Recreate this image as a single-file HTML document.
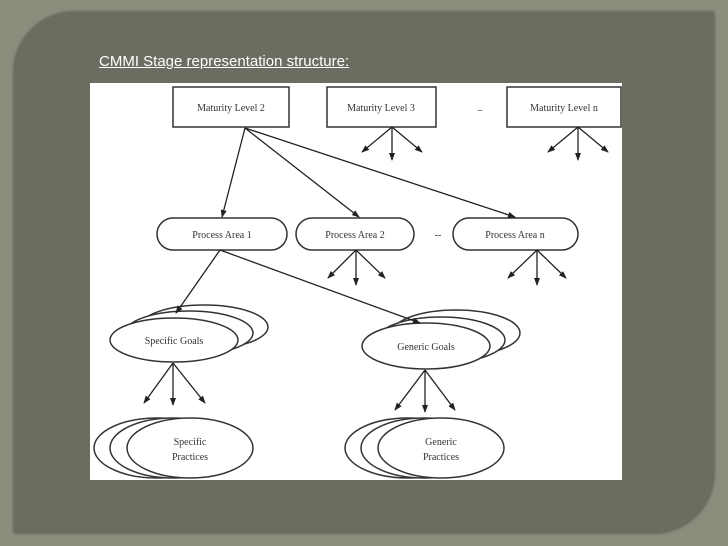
<!DOCTYPE html>
<html><head><style>
html,body{margin:0;padding:0;}
body{width:728px;height:546px;background:#8b8d7d;position:relative;overflow:hidden;font-family:"Liberation Sans",sans-serif;}
.panel{position:absolute;left:14px;top:12px;width:700px;height:521px;background:#6a6d5f;border-radius:60px 0 60px 0;box-shadow:0 0 3px #4d5045;}
.title{position:absolute;left:99px;top:53px;color:#fff;font-size:15px;text-decoration:underline;}
svg{position:absolute;left:0;top:0;}
</style></head><body>
<div class="panel"></div>
<div class="title">CMMI Stage representation structure:</div>
<svg width="728" height="546" viewBox="0 0 728 546">
<defs><marker id="a" markerWidth="8" markerHeight="8" refX="7" refY="4" orient="auto" markerUnits="userSpaceOnUse"><path d="M0,1 L8,4 L0,7z" fill="#222"/></marker></defs>
<rect x="90" y="83" width="532" height="397" fill="#fff"/>
<g fill="#fff" stroke="#333" stroke-width="1.5">
<rect x="173" y="87" width="116" height="40"/>
<rect x="327" y="87" width="109" height="40"/>
<rect x="507" y="87" width="114" height="40"/>
<rect x="157" y="218" width="130" height="32" rx="16"/>
<rect x="296" y="218" width="118" height="32" rx="16"/>
<rect x="453" y="218" width="125" height="32" rx="16"/>
<ellipse cx="204" cy="327" rx="64" ry="22"/><ellipse cx="189" cy="333" rx="64" ry="22"/><ellipse cx="174" cy="340" rx="64" ry="22"/>
<ellipse cx="456" cy="333" rx="64" ry="23"/><ellipse cx="441" cy="340" rx="64" ry="23"/><ellipse cx="426" cy="346" rx="64" ry="23"/>
<ellipse cx="157" cy="448" rx="63" ry="30"/><ellipse cx="173" cy="448" rx="63" ry="30"/><ellipse cx="190" cy="448" rx="63" ry="30"/>
<ellipse cx="408" cy="448" rx="63" ry="30"/><ellipse cx="424" cy="448" rx="63" ry="30"/><ellipse cx="441" cy="448" rx="63" ry="30"/>
</g>
<g stroke="#222" stroke-width="1.3" marker-end="url(#a)">
<line x1="392" y1="127" x2="362" y2="152"/><line x1="392" y1="127" x2="392" y2="160"/><line x1="392" y1="127" x2="422" y2="152"/>
<line x1="578" y1="127" x2="548" y2="152"/><line x1="578" y1="127" x2="578" y2="160"/><line x1="578" y1="127" x2="608" y2="152"/>
<line x1="245" y1="128" x2="222" y2="217"/><line x1="245" y1="128" x2="359" y2="217"/><line x1="245" y1="128" x2="515" y2="217"/>
<line x1="356" y1="250" x2="328" y2="278"/><line x1="356" y1="250" x2="356" y2="285"/><line x1="356" y1="250" x2="385" y2="278"/>
<line x1="537" y1="250" x2="508" y2="278"/><line x1="537" y1="250" x2="537" y2="285"/><line x1="537" y1="250" x2="566" y2="278"/>
<line x1="220" y1="250" x2="176" y2="313"/><line x1="220" y1="250" x2="420" y2="323"/>
<line x1="173" y1="363" x2="144" y2="403"/><line x1="173" y1="363" x2="173" y2="405"/><line x1="173" y1="363" x2="205" y2="403"/>
<line x1="425" y1="370" x2="395" y2="410"/><line x1="425" y1="370" x2="425" y2="412"/><line x1="425" y1="370" x2="455" y2="410"/>
</g>
<g font-family="Liberation Serif,serif" font-size="10" fill="#333" text-anchor="middle">
<text x="231" y="111">Maturity Level 2</text>
<text x="381" y="111">Maturity Level 3</text>
<text x="564" y="111">Maturity Level n</text>
<text x="480" y="113">–</text>
<text x="222" y="238">Process Area 1</text>
<text x="355" y="238">Process Area 2</text>
<text x="438" y="238">--</text>
<text x="515" y="238">Process Area n</text>
<text x="174" y="344">Specific Goals</text>
<text x="426" y="350">Generic Goals</text>
<text x="190" y="445">Specific</text><text x="190" y="460">Practices</text>
<text x="441" y="445">Generic</text><text x="441" y="460">Practices</text>
</g>
</svg>
</body></html>
